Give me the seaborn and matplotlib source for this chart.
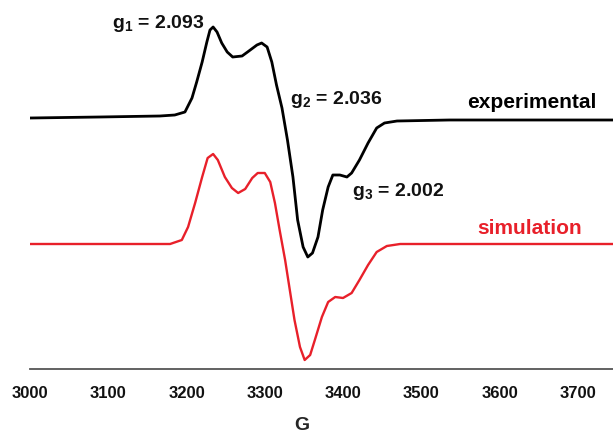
import numpy as np
import pandas as pd
import matplotlib
matplotlib.use("Agg")
import matplotlib.pyplot as plt
import seaborn as sns

# Magnetic field (G) and intensity (arb. units)
exp_field = [3000, 3089, 3166, 3185, 3198, 3207, 3213, 3220, 3226, 3230, 3234,
             3239, 3245, 3252, 3259, 3271, 3278, 3290, 3296, 3303, 3309, 3315,
             3322, 3329, 3336, 3342, 3349, 3355, 3361, 3368, 3374, 3381, 3387,
             3396, 3405, 3411, 3421, 3432, 3443, 3453, 3469, 3536, 3745]
exp_signal = [1, 2, 3, 4, 7, 21, 37, 57, 77, 89, 92,
              87, 76, 67, 62, 63, 67, 74, 76, 72, 57, 34,
              11, -21, -58, -101, -128, -138, -134, -118, -91, -68, -56,
              -56, -58, -54, -41, -24, -9, -4, -2, -1, -1]

sim_field = [3000, 3089, 3179, 3194, 3202, 3211, 3220, 3227, 3234, 3240, 3249,
             3258, 3266, 3275, 3284, 3291, 3300, 3307, 3313, 3319, 3326, 3332,
             3338, 3345, 3351, 3358, 3364, 3373, 3381, 3390, 3400, 3411, 3421,
             3432, 3443, 3456, 3473, 3745]
sim_signal = [0, 0, 0, 4, 17, 41, 67, 86, 90, 84, 67,
              56, 51, 55, 66, 71, 71, 62, 41, 14, -16, -46,
              -76, -103, -116, -111, -96, -73, -58, -53, -54, -49, -36,
              -21, -8, -2, 0, 0]

x_ticks = [3000, 3100, 3200, 3300, 3400, 3500, 3600, 3700]
x_label = "G"
g_labels = ["g$_1$ = 2.093", "g$_2$ = 2.036", "g$_3$ = 2.002"]
series_names = ["experimental", "simulation"]

sim_offset = -125

sns.set_style("white")
plt.rcParams["font.family"] = ["Liberation Sans", "DejaVu Sans"]
plt.rcParams["font.weight"] = "bold"
plt.rcParams["mathtext.fontset"] = "custom"
plt.rcParams["mathtext.rm"] = "Liberation Sans:bold"
plt.rcParams["mathtext.it"] = "Liberation Sans:bold"
plt.rcParams["mathtext.bf"] = "Liberation Sans:bold"

fig = plt.figure(figsize=(6.13, 4.34), dpi=100)
ax = fig.add_axes([30 / 613, 65 / 434, 583 / 613, 369 / 434])

exp_df = pd.DataFrame({"field": exp_field, "signal": exp_signal})
sim_df = pd.DataFrame({"field": sim_field,
                       "signal": np.array(sim_signal) + sim_offset})

sns.lineplot(data=exp_df, x="field", y="signal", ax=ax, color="black",
             lw=2.0, sort=False, solid_joinstyle="round")
sns.lineplot(data=sim_df, x="field", y="signal", ax=ax, color="#e8202a",
             lw=1.7, sort=False, solid_joinstyle="round")

ax.set_xlim(3000, 3745)
ax.set_ylim(-250, 119)
ax.set_xticks(x_ticks)
ax.set_xticklabels([str(t) for t in x_ticks], fontsize=12, fontweight="bold")
ax.set_yticks([])
ax.set_ylabel("")
ax.set_xlabel(x_label, fontsize=14, fontweight="bold")
ax.xaxis.set_label_coords(0.467, -0.13)
for s in ["left", "top", "right"]:
    ax.spines[s].set_visible(False)
ax.spines["bottom"].set_color("#555555")
ax.spines["bottom"].set_linewidth(1.3)
ax.tick_params(axis="x", direction="inout", length=5, width=1, color="#555555",
               pad=10, labelcolor="#111111")

ax.text(3724, 16, series_names[0], ha="right", va="center", fontsize=15,
        fontweight="bold", color="black")
ax.text(3705, -109, series_names[1], ha="right", va="center", fontsize=15,
        fontweight="bold", color="#e8202a")

ax.text(3105, 96, g_labels[0], ha="left", va="center", fontsize=14,
        fontweight="bold", color="#111111")
ax.text(3332, 19, g_labels[1], ha="left", va="center", fontsize=14,
        fontweight="bold", color="#111111")
ax.text(3412, -73, g_labels[2], ha="left", va="center", fontsize=14,
        fontweight="bold", color="#111111")

fig.savefig("out.png", dpi=100)
